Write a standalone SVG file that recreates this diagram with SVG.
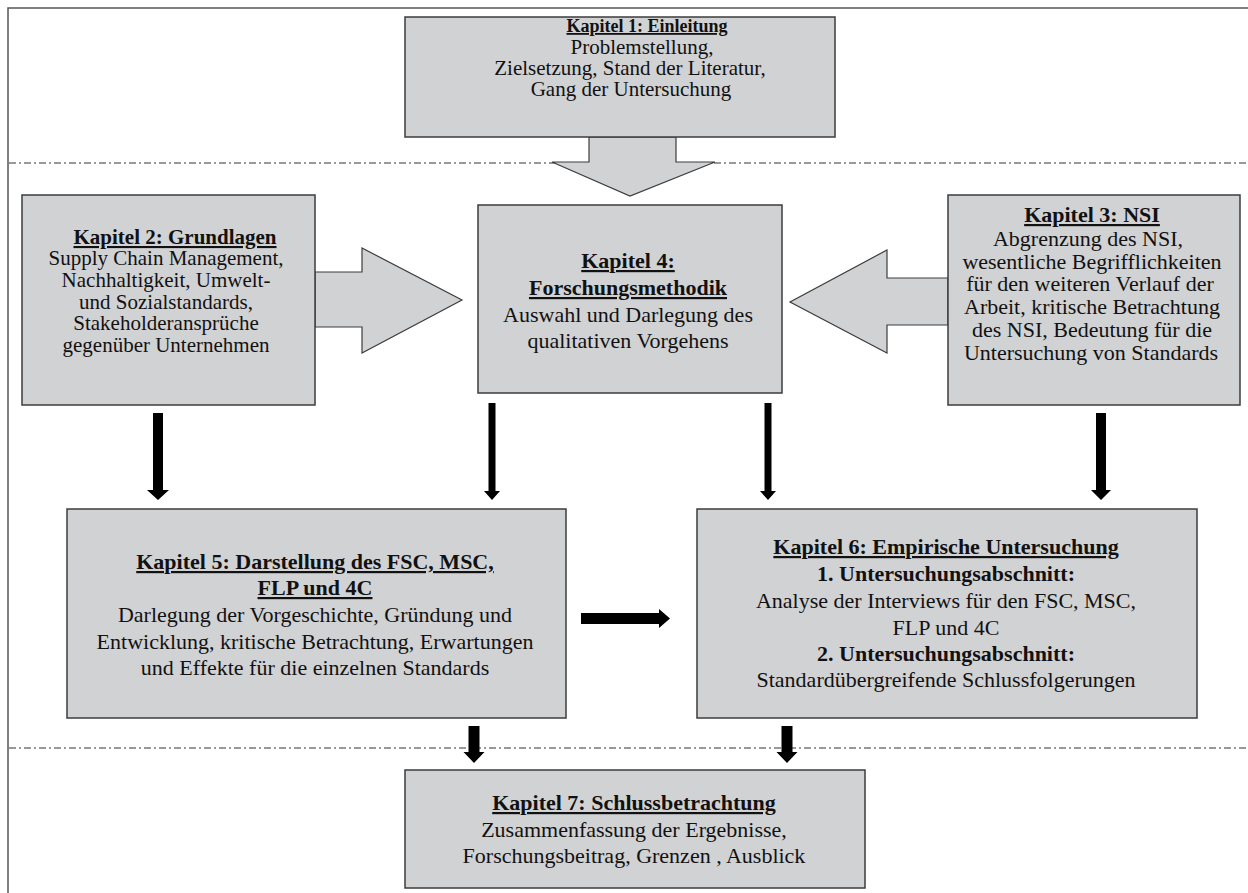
<svg xmlns="http://www.w3.org/2000/svg" width="1248" height="893" viewBox="0 0 1248 893">
<style>
.bg{fill:#ffffff}
.frame{fill:none;stroke:#555;stroke-width:1.5}
.sep{fill:none;stroke:#333;stroke-width:1;stroke-dasharray:7 3 2 3}
.box{fill:#d1d2d4;stroke:#3c3c3c;stroke-width:1.5}
.barrow{fill:#d1d2d4;stroke:#3c3c3c;stroke-width:1.2;stroke-linejoin:miter}
.blk{fill:#000}
text{font-family:"Liberation Serif","Tinos","Times New Roman","DejaVu Serif",serif;font-size:22px;fill:#111;text-anchor:middle}
.h{font-weight:bold;text-decoration:underline}
.b{font-weight:bold}
</style>
<rect class="bg" x="0" y="0" width="1248" height="893"/>
<g id="frame">
<polyline class="frame" points="1248,8 8,8 8,893"/>
<line class="sep" x1="9" y1="163" x2="1248" y2="163"/>
<line class="sep" x1="9" y1="748" x2="1248" y2="748"/>
</g>
<g id="connectors">
<polygon class="barrow" points="589,137 676,137 676,162 715,162 630,196 552,162 589,162"/>
<polygon class="barrow" points="315,272 362,272 362,248 462,300 362,353 362,327 315,327"/>
<polygon class="barrow" points="948,278 887,278 887,250 790,302 887,353 887,325 948,325"/>
<polygon class="blk" points="153,413 163,413 163,490 169,490 158,500 147,490 153,490"/>
<polygon class="blk" points="488.5,403 495.5,403 495.5,491 500,491 492,500 484,491 488.5,491"/>
<polygon class="blk" points="764.5,403 771.5,403 771.5,491 776,491 768,500 760,491 764.5,491"/>
<polygon class="blk" points="1096,413 1106,413 1106,490 1111,490 1101,500 1091,490 1096,490"/>
<polygon class="blk" points="581,613 659,613 659,609 670,618.5 659,628 659,624 581,624"/>
<polygon class="blk" points="468.5,726 479.5,726 479.5,752 484.5,752 474,763 463.5,752 468.5,752"/>
<polygon class="blk" points="781.5,726 792.5,726 792.5,752 797.5,752 787,763 776.5,752 781.5,752"/>
</g>
<g id="kapitel1" font-family="Liberation Serif, serif">
<rect class="box" x="405" y="17" width="430" height="120"/>
<text class="h" x="647" y="32" style="font-size:18px">Kapitel 1: Einleitung</text>
<text x="642" y="54" style="font-size:21px">Problemstellung,</text>
<text x="630" y="75" style="font-size:21px">Zielsetzung, Stand der Literatur,</text>
<text x="631" y="96" style="font-size:21px">Gang der Untersuchung</text>
</g>
<g id="kapitel2">
<rect class="box" x="22" y="195" width="293" height="210"/>
<text class="h" x="175" y="244" style="font-size:21px">Kapitel 2: Grundlagen</text>
<text x="166" y="265" style="font-size:21px">Supply Chain Management,</text>
<text x="166" y="287" style="font-size:21px">Nachhaltigkeit, Umwelt-</text>
<text x="166" y="309" style="font-size:21px">und Sozialstandards,</text>
<text x="166" y="330" style="font-size:21px">Stakeholderansprüche</text>
<text x="166" y="352" style="font-size:21px">gegenüber Unternehmen</text>
</g>
<g id="kapitel3">
<rect class="box" x="948" y="195" width="292" height="210"/>
<text class="h" x="1092" y="222">Kapitel 3: NSI</text>
<text x="1088" y="246">Abgrenzung des NSI,</text>
<text x="1092" y="269">wesentliche Begrifflichkeiten</text>
<text x="1090" y="291">für den weiteren Verlauf der</text>
<text x="1092" y="314">Arbeit, kritische Betrachtung</text>
<text x="1092" y="337">des NSI, Bedeutung für die</text>
<text x="1091" y="360">Untersuchung von Standards</text>
</g>
<g id="kapitel4">
<rect class="box" x="478" y="205" width="304" height="188"/>
<text class="h" x="628" y="268">Kapitel 4:</text>
<text class="h" x="628" y="295">Forschungsmethodik</text>
<text x="628" y="322">Auswahl und Darlegung des</text>
<text x="628" y="348">qualitativen Vorgehens</text>
</g>
<g id="kapitel5">
<rect class="box" x="67" y="509" width="499" height="209"/>
<text class="h" x="315" y="569">Kapitel 5: Darstellung des FSC, MSC,</text>
<text class="h" x="315" y="595">FLP und 4C</text>
<text x="315" y="622">Darlegung der Vorgeschichte, Gründung und</text>
<text x="315" y="649">Entwicklung, kritische Betrachtung, Erwartungen</text>
<text x="315" y="675">und Effekte für die einzelnen Standards</text>
</g>
<g id="kapitel6">
<rect class="box" x="697" y="509" width="500" height="209"/>
<text class="h" x="946" y="554">Kapitel 6: Empirische Untersuchung</text>
<text class="b" x="946" y="581">1. Untersuchungsabschnitt:</text>
<text x="946" y="608">Analyse der Interviews für den FSC, MSC,</text>
<text x="946" y="635">FLP und 4C</text>
<text class="b" x="946" y="661">2. Untersuchungsabschnitt:</text>
<text x="946" y="687">Standardübergreifende Schlussfolgerungen</text>
</g>
<g id="kapitel7">
<rect class="box" x="405" y="770" width="460" height="118"/>
<text class="h" x="634" y="810">Kapitel 7: Schlussbetrachtung</text>
<text x="634" y="837">Zusammenfassung der Ergebnisse,</text>
<text x="634" y="863">Forschungsbeitrag, Grenzen , Ausblick</text>
</g>
</svg>
